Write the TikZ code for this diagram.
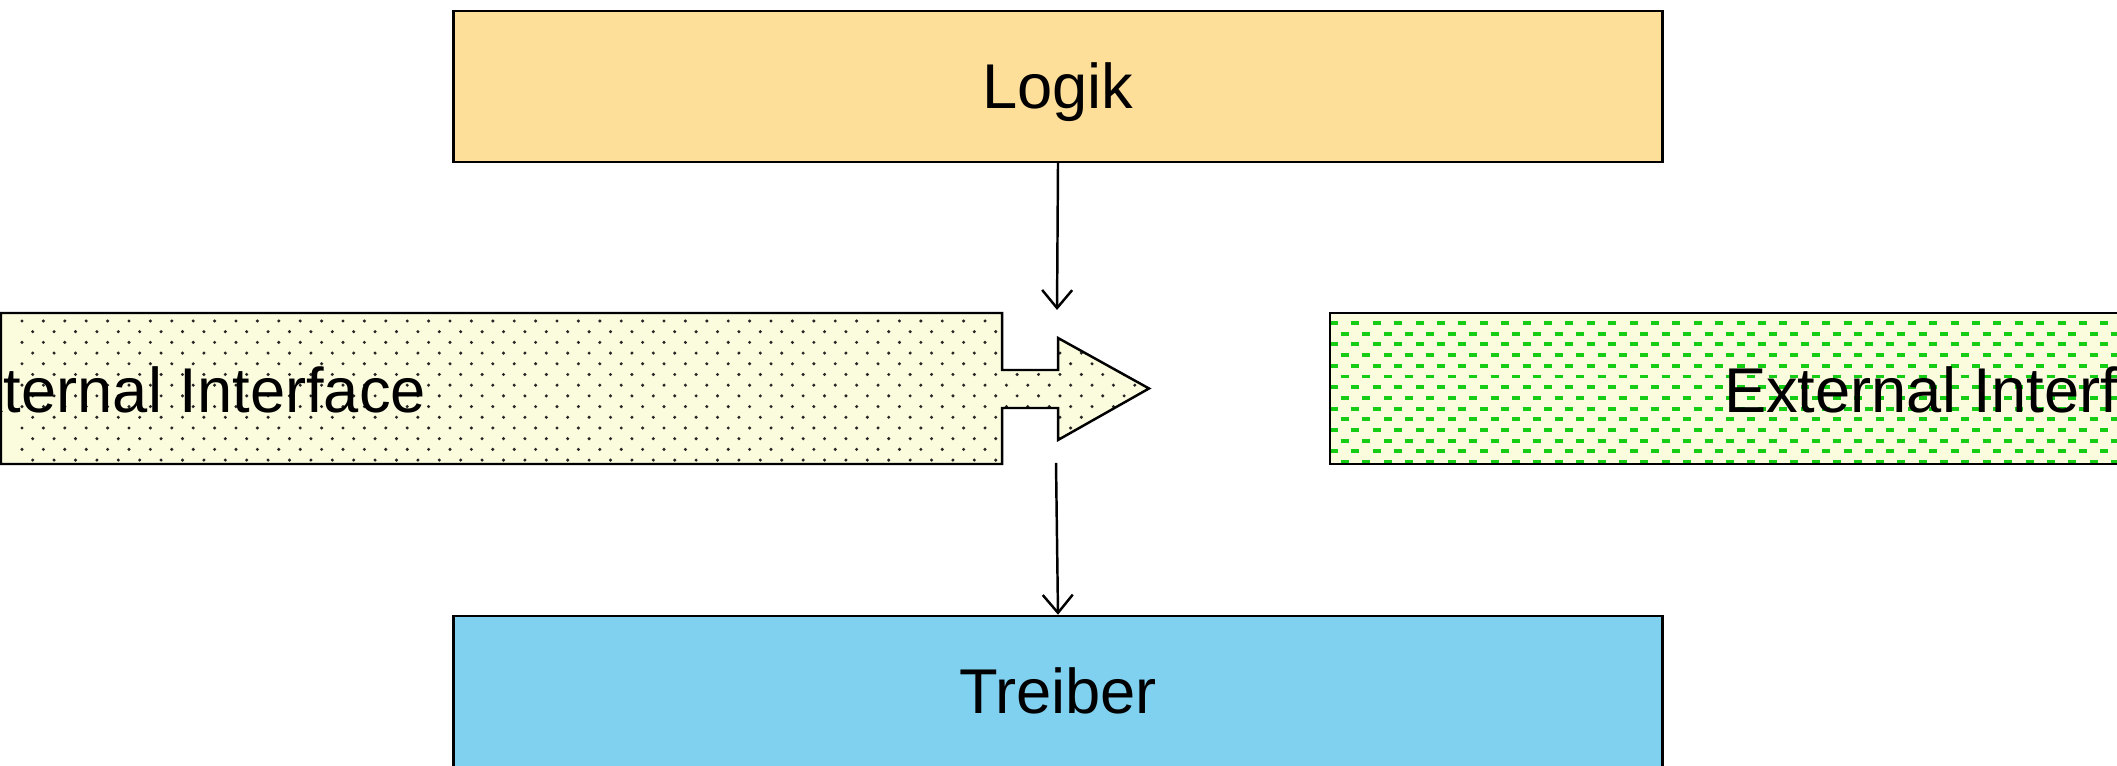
\documentclass[tikz,border=0pt]{standalone}
\usepackage{fontspec}
\setmainfont{Liberation Sans}
\usetikzlibrary{arrows.meta, positioning}
\definecolor{logikfill}{RGB}{254,223,154}
\definecolor{treiberfill}{RGB}{128,208,239}
\definecolor{ifacefill}{RGB}{251,251,221}
\definecolor{dashgreen}{RGB}{20,205,20}

\begin{document}
\begin{tikzpicture}[
  block/.style={draw=black, line width=0.7pt, minimum width=12.09cm,
    minimum height=1.51cm, inner sep=0pt, text height=0.45cm, text depth=0pt,
    font=\fontsize{18}{21}\selectfont},
  lbl/.style={inner sep=0pt, text height=0.45cm, text depth=0pt,
    font=\fontsize{18}{21}\selectfont},
  flow/.style={draw, line width=0.7pt, -{Straight Barb[length=1.8mm, width=3mm]}},
]
\useasboundingbox (0,0) rectangle (21.17,7.66);

% Upper and lower layer
\node[block, fill=logikfill] (logik) at (10.58,6.795) {Logik};
\node[block, fill=treiberfill] (treiber) at (10.58,0.745) {Treiber};

% Internal interface: box with arrow, dotted
\coordinate (intTip) at (11.49,3.775);
\begin{scope}
  \clip (0.01,4.53) -- (10.02,4.53) -- (10.02,3.96) -- (10.58,3.96)
    -- (10.58,4.28) -- (intTip) -- (10.58,3.26) -- (10.58,3.58)
    -- (10.02,3.58) -- (10.02,3.02) -- (0.01,3.02) -- cycle;
  \fill[ifacefill] (0,2.9) rectangle (11.6,4.6);
  \foreach \r in {0,...,14} {
    \pgfmathsetmacro{\off}{mod(\r,2)*0.107}
    \foreach \c in {0,...,54}
      \fill[black!85] ({0.22+\off+\c*0.214},{4.45-\r*0.107}) circle (0.017);
  }
\end{scope}
\draw[line width=0.7pt] (0.01,4.53) -- (10.02,4.53) -- (10.02,3.96) -- (10.58,3.96)
  -- (10.58,4.28) -- (intTip) -- (10.58,3.26) -- (10.58,3.58)
  -- (10.02,3.58) -- (10.02,3.02) -- (0.01,3.02) -- cycle;
\node[lbl] (intlbl) at (1.78,3.76) {External Interface};

% External interface: box with green dashes
\begin{scope}
  \clip (13.30,3.02) rectangle (21.5,4.53);
  \fill[ifacefill] (13.30,3.02) rectangle (21.5,4.53);
  \foreach \r in {0,...,14} {
    \pgfmathsetmacro{\off}{mod(\r,2)*0.107}
    \foreach \c in {0,...,40}
      \draw[dashgreen, line width=1.1pt]
        ({13.30+\off+\c*0.214},{4.43-\r*0.107}) -- ++(0.08,0);
  }
\end{scope}
\draw[line width=0.7pt] (21.5,4.53) -- (13.30,4.53) -- (13.30,3.02) -- (21.5,3.02);
\node[lbl] (extlbl) at (19.72,3.76) {External Interface};

% Connections
\coordinate (inTop) at (10.57,4.56);
\coordinate (inBot) at (10.56,3.03);
\draw[flow] (logik.south) -- (inTop);
\draw[flow] (inBot) -- (treiber.north);
\end{tikzpicture}
\end{document}
